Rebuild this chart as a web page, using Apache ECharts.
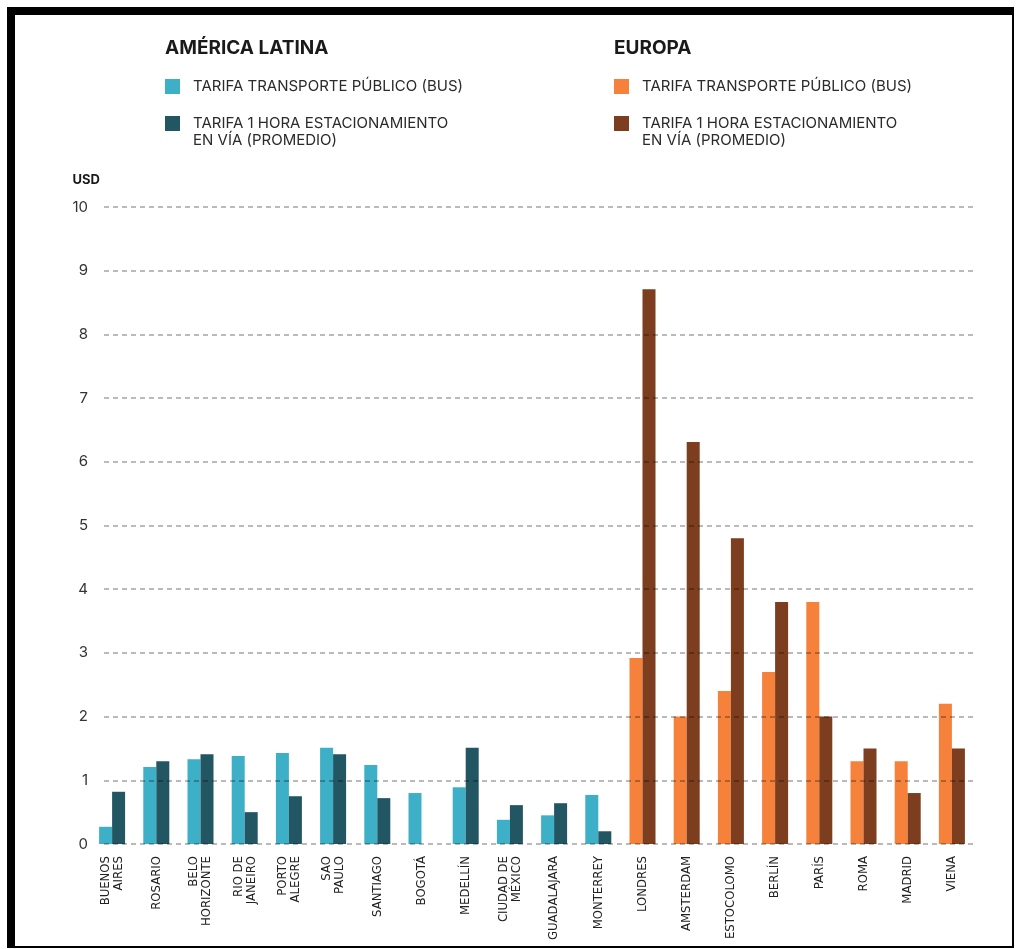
<!DOCTYPE html>
<html>
<head>
<meta charset="utf-8">
<script src="https://cdn.jsdelivr.net/npm/echarts@6/dist/echarts.min.js"></script>
<style>
  html, body { margin: 0; padding: 0; background: #fff; }
  #chart { position: absolute; left: 0; top: 0; width: 1016px; height: 949px; }
  #frame { position: absolute; left: 7px; top: 7px; width: 1007px; height: 941px; box-sizing: border-box;
           border-top: 8px solid #000; border-left: 8px solid #000; border-right: 2px solid #000; border-bottom: 2px solid #000;
           pointer-events: none; }
</style>
</head>
<body>
<div id="chart"></div>
<div id="frame"></div>
<script>
// ---- data ----
const categories = ['BUENOS\nAIRES', 'ROSARIO', 'BELO\nHORIZONTE', 'RIO DE\nJANEIRO', 'PORTO\nALEGRE', 'SAO\nPAULO',
  'SANTIAGO', 'BOGOTÁ', 'MEDELLÍN', 'CIUDAD DE\nMÉXICO', 'GUADALAJARA', 'MONTERREY',
  'LONDRES', 'AMSTERDAM', 'ESTOCOLOMO', 'BERLÍN', 'PARÍS', 'ROMA', 'MADRID', 'VIENA'];
const latamBus = [0.27, 1.21, 1.33, 1.38, 1.43, 1.51, 1.24, 0.80, 0.89, 0.38, 0.45, 0.77,
  null, null, null, null, null, null, null, null];
const latamParking = [0.82, 1.30, 1.41, 0.50, 0.75, 1.41, 0.72, null, 1.51, 0.61, 0.64, 0.20,
  null, null, null, null, null, null, null, null];
const europeBus = [null, null, null, null, null, null, null, null, null, null, null, null,
  2.92, 2.00, 2.40, 2.70, 3.80, 1.30, 1.30, 2.20];
const europeParking = [null, null, null, null, null, null, null, null, null, null, null, null,
  8.71, 6.31, 4.80, 3.80, 2.00, 1.50, 0.80, 1.50];
const regionTitles = ['AMÉRICA LATINA', 'EUROPA'];
const legendLabels = {
  latamBus: 'TARIFA TRANSPORTE PÚBLICO (BUS)',
  latamParking: ' \nTARIFA 1 HORA ESTACIONAMIENTO\nEN VÍA (PROMEDIO)',
  europeBus: 'TARIFA TRANSPORTE PÚBLICO (BUS)',
  europeParking: ' \nTARIFA 1 HORA ESTACIONAMIENTO\nEN VÍA (PROMEDIO)'
};
const yAxisName = 'USD';

// ---- chart ----
const chart = echarts.init(document.getElementById('chart'), null, { renderer: 'canvas' });
const colors = { latamBus: '#3DAFC7', latamParking: '#235663', europeBus: '#F5813A', europeParking: '#7C3E1E' };
const legendCommon = {
  orient: 'vertical', padding: 0, itemWidth: 15, itemHeight: 15, itemGap: 3,
  icon: 'rect', selectedMode: false,
  formatter: n => legendLabels[n],
  textStyle: { fontFamily: 'Inter', fontSize: 15, lineHeight: 17, color: '#2b2b2b', padding: [0, 0, 0, 8] }
};
const titleStyle = { fontFamily: 'Inter', fontSize: 19, fontWeight: 'bold', color: '#1a1a1a' };
const barCommon = { type: 'bar', barWidth: 13, barGap: '0%', xAxisIndex: 0, yAxisIndex: 0 };

chart.setOption({
  animation: false,
  title: [
    { text: regionTitles[0], left: 165, top: 39, padding: 0, textStyle: titleStyle },
    { text: regionTitles[1], left: 614, top: 39, padding: 0, textStyle: titleStyle }
  ],
  legend: [
    Object.assign({}, legendCommon, { left: 165, top: 78, data: ['latamBus', 'latamParking'] }),
    Object.assign({}, legendCommon, { left: 614, top: 78, data: ['europeBus', 'europeParking'] })
  ],
  grid: [
    { left: 90, right: 42, top: 207, bottom: 105 },
    { left: 104, right: 41, top: 207, bottom: 105 }
  ],
  xAxis: [
    { type: 'category', gridIndex: 0, data: categories,
      axisLine: { show: false }, axisTick: { show: false },
      axisLabel: { interval: 0, rotate: 90, margin: 12,
                   fontFamily: '"DejaVu Sans Condensed", "Liberation Sans", sans-serif', fontSize: 13,
                   lineHeight: 13, color: '#222' } },
    { type: 'value', gridIndex: 1, show: false, min: 0, max: 1 }
  ],
  yAxis: [
    { type: 'value', gridIndex: 0, min: 0, max: 10, interval: 1,
      axisLine: { show: false }, axisTick: { show: false }, axisLabel: { show: false }, splitLine: { show: false } },
    { type: 'value', gridIndex: 1, min: 0, max: 10, interval: 1, z: 10,
      name: yAxisName, nameLocation: 'end', nameGap: 27,
      nameTextStyle: { fontFamily: 'Inter', fontSize: 13, fontWeight: 'bold', color: '#1a1a1a',
                       align: 'right', verticalAlign: 'middle', padding: [0, 4, 0, 0] },
      axisLine: { show: false }, axisTick: { show: false },
      axisLabel: { margin: 16, fontFamily: 'Inter', fontSize: 15, color: '#333' },
      splitLine: { show: true, lineStyle: { color: 'rgba(0,0,0,0.27)', width: 2, type: [5, 4] } } }
  ],
  series: [
    Object.assign({}, barCommon, { name: 'latamBus', stack: 'bus', data: latamBus, itemStyle: { color: colors.latamBus } }),
    Object.assign({}, barCommon, { name: 'latamParking', stack: 'park', data: latamParking, itemStyle: { color: colors.latamParking } }),
    Object.assign({}, barCommon, { name: 'europeBus', stack: 'bus', data: europeBus, itemStyle: { color: colors.europeBus } }),
    Object.assign({}, barCommon, { name: 'europeParking', stack: 'park', data: europeParking, itemStyle: { color: colors.europeParking } })
  ]
});
</script>
</body>
</html>
